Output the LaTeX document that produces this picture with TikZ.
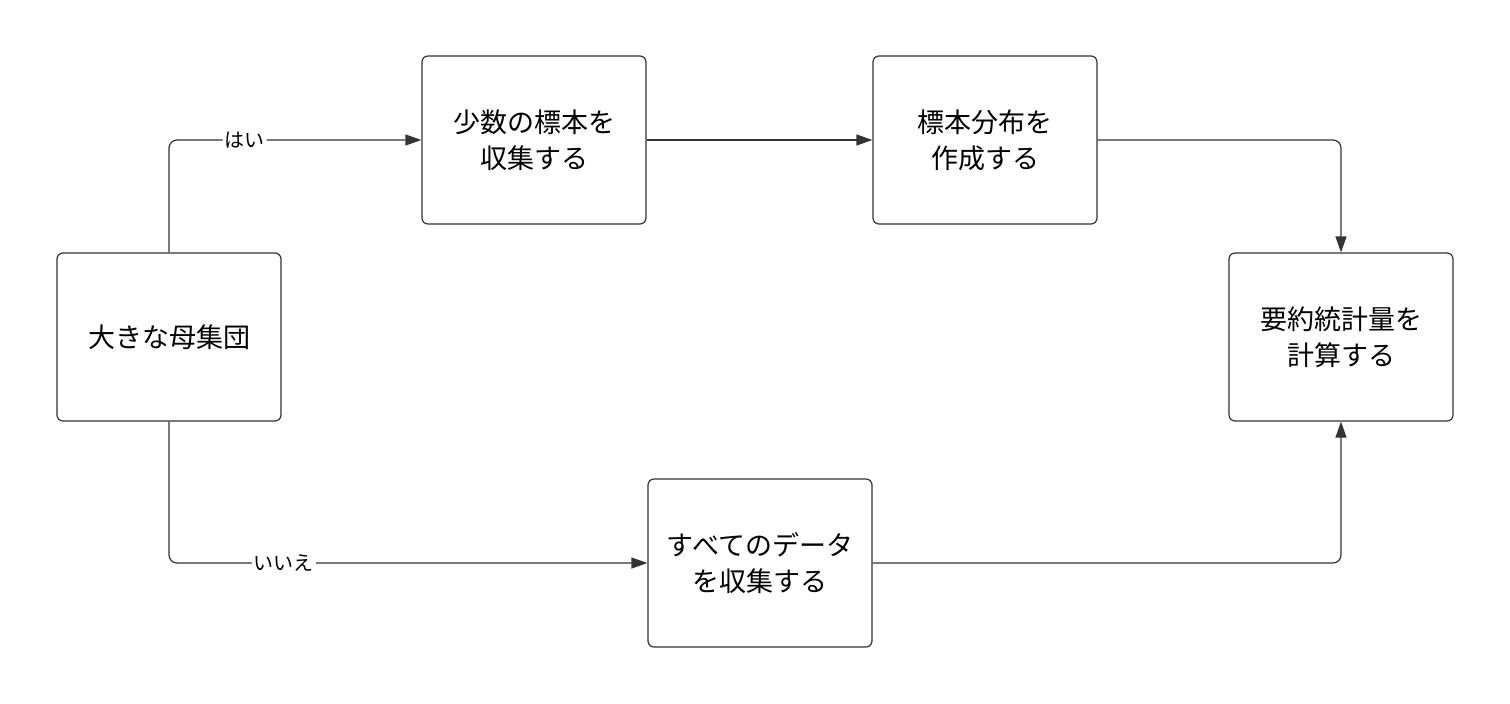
\documentclass[tikz,border=0pt]{standalone}
\usepackage{fontspec}
\setmainfont{Noto Sans CJK JP}
\usetikzlibrary{arrows.meta}
\definecolor{ln}{HTML}{333333}
\begin{document}
\begin{tikzpicture}[x=1pt,y=-1pt,
  box/.style={draw=ln,line width=1.2pt,rounded corners=6pt,minimum width=224pt,minimum height=168pt,align=center,font=\fontsize{27}{36}\selectfont,text=black},
  arr/.style={draw=ln,line width=1.2pt,rounded corners=8pt,-{Triangle[length=16pt,width=11pt]}},
  lbl/.style={fill=white,inner sep=2pt,font=\fontsize{20}{24}\selectfont}]
\useasboundingbox (0,0) rectangle (1510,704);
\node[box] (pop) at (169,337) {大きな母集団};
\node[box] (samp) at (534,140) {少数の標本を\\収集する};
\node[box] (dist) at (985,140) {標本分布を\\作成する};
\node[box] (stat) at (1341,337) {要約統計量を\\計算する};
\node[box] (all) at (760,563) {すべてのデータ\\を収集する};
\draw[arr] (pop.north) |- node[lbl,pos=0.65]{はい} (samp.west);
\draw[arr] (pop.south) |- node[lbl,pos=0.62]{いいえ} (all.west);
\draw[arr] (samp) -- (dist);
\draw[arr] (dist.east) -| (stat.north);
\draw[arr] (all.east) -| (stat.south);
\end{tikzpicture}
\end{document}
